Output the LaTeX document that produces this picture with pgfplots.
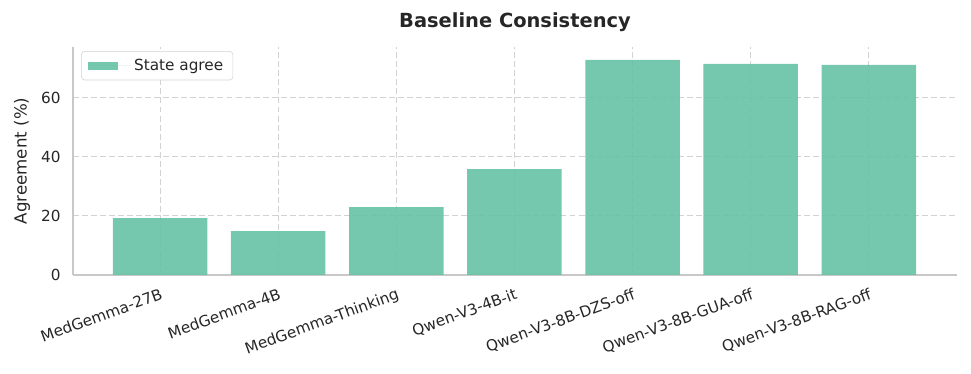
\documentclass[border=0pt]{standalone}
\usepackage{fontspec}
\setmainfont{DejaVu Sans}
\usepackage{pgfplots}
\pgfplotsset{compat=1.18}
\definecolor{barc}{HTML}{66C2A5}
\definecolor{gridc}{HTML}{D2D2D2}
\definecolor{spinec}{HTML}{C8C8C8}
\definecolor{txt}{HTML}{262626}

\begin{document}
\begin{tikzpicture}
\path[use as bounding box] (-52.6pt,-70.6pt) rectangle (646.6pt,198pt);
\begin{axis}[
  at={(0,0)}, anchor=south west,
  scale only axis, width=636.5pt, height=164.2pt,
  xmin=-0.737, xmax=6.746, ymin=0, ymax=77.3,
  axis x line*=bottom, axis y line*=left,
  axis line style={spinec, line width=1pt, -},
  xtick={0,...,6}, ytick={0,20,40,60},
  xticklabels={MedGemma-27B,MedGemma-4B,MedGemma-Thinking,Qwen-V3-4B-it,Qwen-V3-8B-DZS-off,Qwen-V3-8B-GUA-off,Qwen-V3-8B-RAG-off},
  major tick length=0pt,
  grid=major, major grid style={gridc, dash pattern=on 4.3pt off 2.2pt, line width=0.75pt},
  /pgf/number format/assume math mode=true,
  xticklabel style={rotate=20, anchor=north east, yshift=-5pt, font=\fontsize{11}{13}\selectfont, text=txt},
  yticklabel style={xshift=-5.5pt, font=\fontsize{11}{13}\selectfont, text=txt},
  ylabel={Agreement (\%)},
  ylabel style={at={(axis description cs:-0.0577,0.5)}, anchor=center, font=\fontsize{12}{14}\selectfont, text=txt},
  title={Baseline Consistency},
  title style={at={(axis description cs:0.5,1)}, anchor=base, yshift=8pt, font=\bfseries\fontsize{14}{16}\selectfont, text=txt},
  legend style={at={(0.0091,0.982)}, anchor=north west, draw=gridc, rounded corners=2.5pt,
    font=\fontsize{11}{13}\selectfont, text=txt, inner xsep=5pt, inner ysep=3.5pt},
  legend cell align=left,
  legend image code/.code={\fill[barc, fill opacity=0.9, sharp corners] (0pt,-2.9pt) rectangle (21.6pt,2.9pt);
    \path (0pt,0pt) -- (31pt,0pt);},
]
\addplot[ybar, bar width=0.8, fill=barc, fill opacity=0.9, draw=none]
  coordinates {(0,19.3) (1,14.9) (2,23.0) (3,35.9) (4,72.9) (5,71.6) (6,71.2)};
\addlegendentry{State agree}
\end{axis}
\end{tikzpicture}
\end{document}
